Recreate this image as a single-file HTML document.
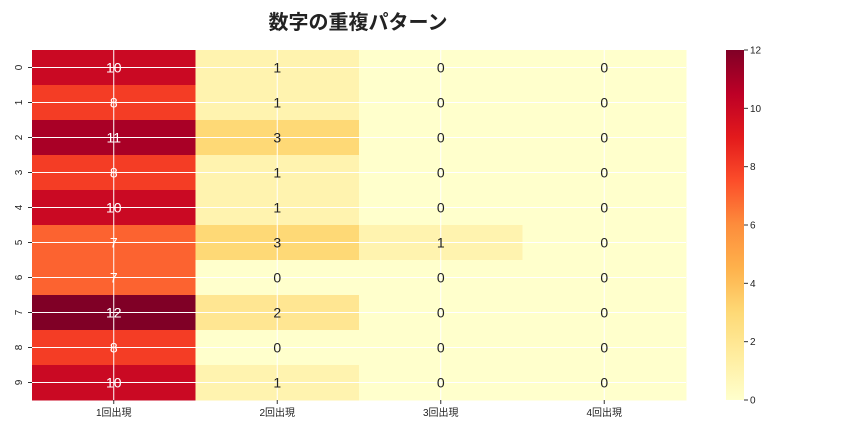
<!DOCTYPE html>
<html><head><meta charset="utf-8"><style>
body{margin:0;background:#fff;font-family:"Liberation Sans","Noto Sans CJK JP",sans-serif}
</style></head><body>
<svg id="c" width="864" height="432" xmlns="http://www.w3.org/2000/svg">
<defs><linearGradient id="g" x1="0" y1="1" x2="0" y2="0">
<stop offset="0" stop-color="#ffffcc"/><stop offset="0.125" stop-color="#ffeda0"/><stop offset="0.25" stop-color="#fed976"/><stop offset="0.375" stop-color="#feb24c"/><stop offset="0.5" stop-color="#fd8d3c"/><stop offset="0.625" stop-color="#fc4e2a"/><stop offset="0.75" stop-color="#e31a1c"/><stop offset="0.875" stop-color="#bd0026"/><stop offset="1" stop-color="#800026"/>
</linearGradient></defs>
<text x="358" y="29" text-anchor="middle" font-size="20" font-weight="bold" fill="#222" font-family="Liberation Sans, Noto Sans CJK JP, sans-serif">数字の重複パターン</text>
<g id="cells"></g>
<rect x="726" y="50" width="18" height="350" fill="url(#g)"/>
<g id="cb"></g>
</svg>
<script>
const categories=["1回出現","2回出現","3回出現","4回出現"];
const rowLabels=["0","1","2","3","4","5","6","7","8","9"];
const col1=[10,8,11,8,10,7,7,12,8,10];
const col2=[1,1,3,1,1,3,0,2,0,1];
const col3=[0,0,0,0,0,1,0,0,0,0];
const col4=[0,0,0,0,0,0,0,0,0,0];
const cbTicks=[0,2,4,6,8,10,12];
const series=[col1,col2,col3,col4];
const vmin=0,vmax=12;
const X0=32,X1=686,Y0=50,Y1=400;
const cw=(X1-X0)/categories.length, rh=(Y1-Y0)/rowLabels.length;
const stops=[[255,255,204],[255,237,160],[254,217,118],[254,178,76],[253,141,60],[252,78,42],[227,26,28],[189,0,38],[128,0,38]];
function cmap(v){let t=(v-vmin)/(vmax-vmin)*8;let i=Math.min(7,Math.floor(t)),f=t-i;const a=stops[i],b=stops[i+1];return `rgb(${a.map((c,k)=>Math.round(c+(b[k]-c)*f)).join(',')})`;}
const NS="http://www.w3.org/2000/svg";
const g=document.getElementById('cells'), cb=document.getElementById('cb');
function mk(tag,attrs,parent){const e=document.createElementNS(NS,tag);for(const k in attrs)e.setAttribute(k,attrs[k]);parent.appendChild(e);return e;}
series.forEach((s,ci)=>{s.forEach((v,ri)=>{
const r=mk('rect',{x:X0+ci*cw,y:Y0+ri*rh,width:cw+0.5,height:rh+0.5,fill:cmap(v)},g);


});});
// grid lines
for(let ri=0;ri<rowLabels.length;ri++){const l=mk('line',{x1:X0,x2:X1,y1:Y0+(ri+0.5)*rh,y2:Y0+(ri+0.5)*rh,stroke:'#fff','stroke-width':1},g);

}
for(let ci=0;ci<categories.length;ci++){const l=mk('line',{y1:Y0,y2:Y1,x1:X0+(ci+0.5)*cw,x2:X0+(ci+0.5)*cw,stroke:'#fff','stroke-width':1},g);

}
series.forEach((s,ci)=>{s.forEach((v,ri)=>{
const t=mk('text',{x:X0+(ci+0.5)*cw,y:Y0+(ri+0.5)*rh+5,'text-anchor':'middle','font-size':14,fill:v>=6?'#fff':'#222'},g);
t.textContent=v;


});});
rowLabels.forEach((lab,ri)=>{const y=Y0+(ri+0.5)*rh;
mk('line',{x1:X0-4,x2:X0,y1:y,y2:y,stroke:'#333'},g);
const t=mk('text',{x:0,y:0,'text-anchor':'middle','font-size':10,fill:'#222',transform:`translate(${X0-10},${y}) rotate(-90)`},g);
t.textContent=lab;

});
categories.forEach((lab,ci)=>{const x=X0+(ci+0.5)*cw;
mk('line',{x1:x,x2:x,y1:Y1,y2:Y1+4,stroke:'#333'},g);
const t=mk('text',{x:x,y:Y1+16,'text-anchor':'middle','font-size':10,fill:'#222'},g);
t.textContent=lab;

});
cbTicks.forEach(v=>{const y=Y1-(v-vmin)/(vmax-vmin)*(Y1-Y0);
mk('line',{x1:744,x2:748,y1:y,y2:y,stroke:'#333'},cb);
const t=mk('text',{x:750,y:y+3.5,'font-size':10,fill:'#222'},cb);
t.textContent=v;

});
</script>
</body></html>
